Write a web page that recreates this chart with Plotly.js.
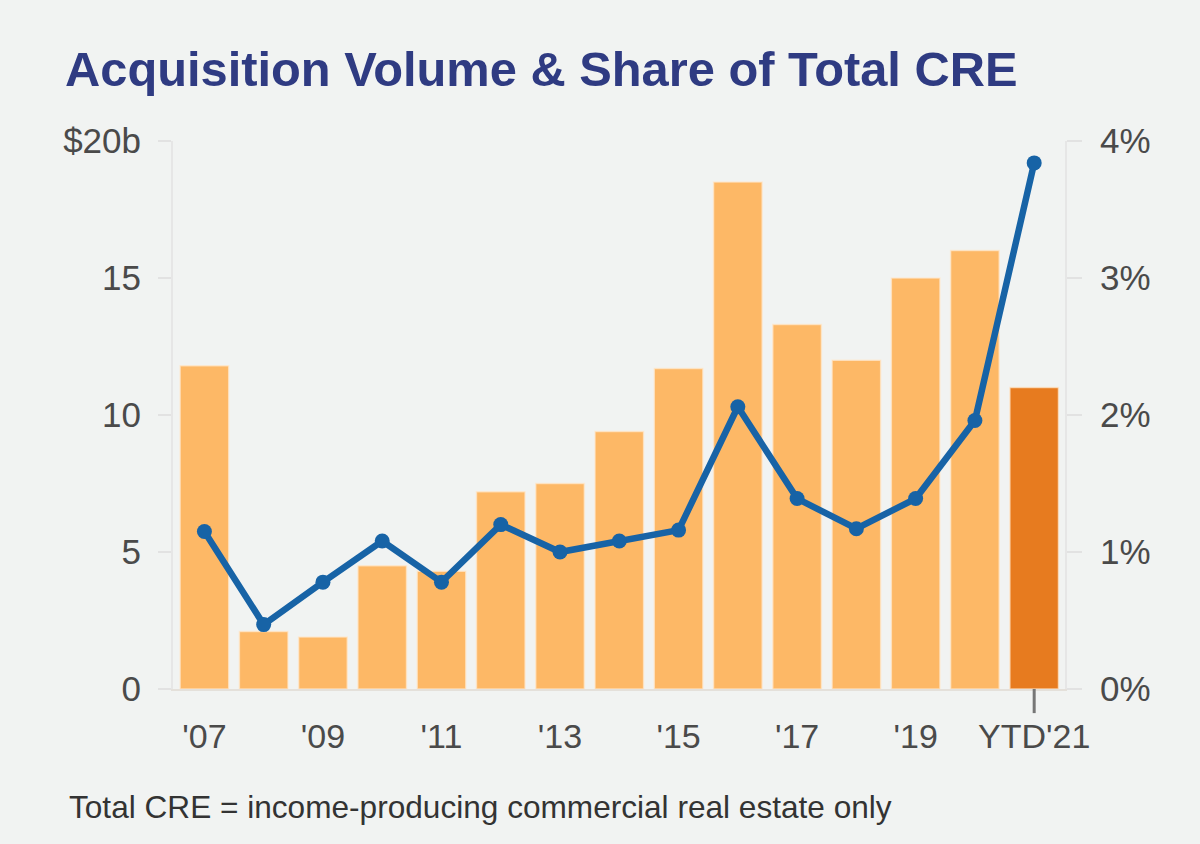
<!DOCTYPE html>
<html>
<head>
<meta charset="utf-8">
<script src="https://cdn.plot.ly/plotly-3.0.1.min.js"></script>
<style>html,body{margin:0;padding:0;background:#f1f3f2;}#chart{width:1200px;height:844px;}</style>
</head>
<body>
<div id="chart"></div>
<script>
const categories = ["'07","'08","'09","'10","'11","'12","'13","'14","'15","'16","'17","'18","'19","'20","YTD'21"];
const volume = [11.8, 2.1, 1.9, 4.5, 4.3, 7.2, 7.5, 9.4, 11.7, 18.5, 13.3, 12.0, 15.0, 16.0, 11.0];
const sharePct = [1.15, 0.47, 0.78, 1.08, 0.78, 1.2, 1.0, 1.08, 1.16, 2.06, 1.39, 1.17, 1.39, 1.96, 3.84];
const xTickVals = ["'07","'09","'11","'13","'15","'17","'19","YTD'21"];
const yLeftTicks = [0, 5, 10, 15, 20];
const yLeftText = ["0", "5", "10", "15", "$20b"];
const yRightTicks = [0, 1, 2, 3, 4];
const yRightText = ["0%", "1%", "2%", "3%", "4%"];

const barColors = categories.map((c, i) => i === categories.length - 1 ? '#e77b1f' : '#fdb866');
const FONT = 'Liberation Sans, Arial, sans-serif';

const traces = [
  {
    type: 'bar', x: categories, y: volume, yaxis: 'y',
    marker: {color: barColors, line: {color: 'rgba(255,232,205,0.7)', width: 1.5}},
    width: 0.82, hoverinfo: 'skip', showlegend: false
  },
  {
    type: 'scatter', mode: 'lines+markers', x: categories, y: sharePct, yaxis: 'y2',
    line: {color: '#1763a6', width: 6.5},
    marker: {color: '#1763a6', size: 15},
    showlegend: false
  }
];

const layout = {
  width: 1200, height: 844,
  paper_bgcolor: '#f1f3f2', plot_bgcolor: '#f1f3f2',
  margin: {l: 173, r: 135, t: 141, b: 155},
  font: {family: FONT, color: '#4a4a4a'},
  title: {
    text: 'Acquisition Volume & Share of Total CRE',
    x: 65/1200, xref: 'container', xanchor: 'left',
    y: 1 - 69/844, yref: 'container', yanchor: 'middle',
    font: {family: FONT, size: 48.8, color: '#2f3b82', weight: 'bold'}
  },
  xaxis: {
    type: 'category', categoryorder: 'array', categoryarray: categories,
    range: [-0.53, 14.52],
    tickmode: 'array', tickvals: xTickVals, ticktext: xTickVals,
    ticks: 'outside', ticklen: 16, tickcolor: 'rgba(0,0,0,0)',
    ticklabelstandoff: 0,
    tickfont: {family: FONT, size: 34, color: '#4a4a4a'},
    showline: true, linecolor: '#e4e0da', linewidth: 2,
    showgrid: false, zeroline: false, fixedrange: true
  },
  yaxis: {
    range: [0, 20], tickmode: 'array', tickvals: yLeftTicks, ticktext: yLeftText,
    ticks: 'outside', ticklen: 13, tickcolor: '#e2e2e2', tickwidth: 2,
    ticklabelstandoff: 10,
    tickfont: {family: FONT, size: 35, color: '#4a4a4a'},
    showline: true, linecolor: '#e6e6e6', linewidth: 2,
    showgrid: false, zeroline: false, fixedrange: true
  },
  yaxis2: {
    overlaying: 'y', side: 'right',
    range: [0, 4], tickmode: 'array', tickvals: yRightTicks, ticktext: yRightText,
    ticks: 'outside', ticklen: 15, tickcolor: '#e2e2e2', tickwidth: 2,
    ticklabelstandoff: 11,
    tickfont: {family: FONT, size: 35, color: '#4a4a4a'},
    showline: true, linecolor: '#e6e6e6', linewidth: 2,
    showgrid: false, zeroline: false, fixedrange: true
  },
  shapes: [
    {type: 'line', xref: 'x', yref: 'paper',
     x0: categories[categories.length - 1], x1: categories[categories.length - 1],
     y0: 0, y1: -0.044, line: {color: '#767676', width: 3}}
  ],
  annotations: [
    {text: 'Total CRE = income-producing commercial real estate only',
     xref: 'paper', yref: 'paper', x: (67 - 173)/892, y: -(807 - 689)/548,
     xanchor: 'left', yanchor: 'middle', showarrow: false,
     font: {family: FONT, size: 31.6, color: '#333333'}}
  ]
};

Plotly.newPlot('chart', traces, layout, {displayModeBar: false, staticPlot: true});
</script>
</body>
</html>
